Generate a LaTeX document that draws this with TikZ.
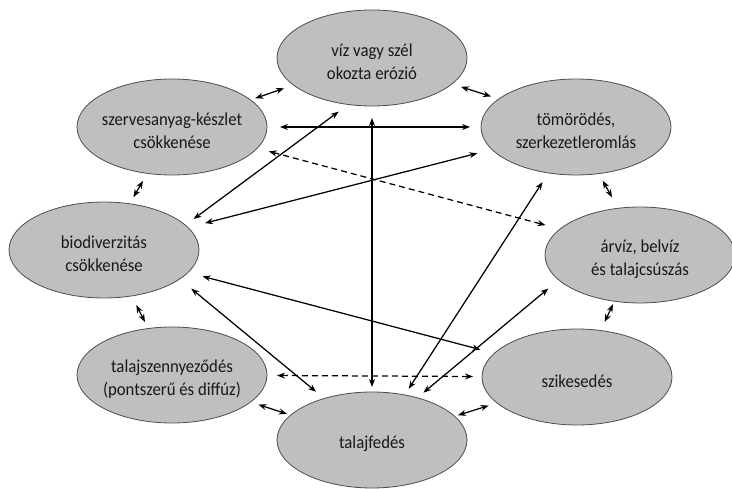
\documentclass[tikz,border=0pt]{standalone}
\usepackage{fontspec}
\setmainfont{Carlito}[FakeStretch=0.92]
\usetikzlibrary{arrows.meta,shapes.geometric}
\begin{document}
\begin{tikzpicture}[x=1pt,y=-1pt,
  blob/.style={ellipse, draw=black!70, line width=0.8pt, fill=black!25,
    minimum width=190pt, minimum height=96pt, inner sep=0pt, outer sep=0pt},
  txt/.style={align=center, font=\fontsize{18.2}{23}\selectfont, text=black!90, inner sep=0pt, yshift=-4pt},
  link/.style={{Stealth[length=8pt,width=6pt]}-{Stealth[length=8pt,width=6pt]}, line width=1.25pt},
  dlink/.style={link, dash pattern=on 6pt off 4pt}]
\useasboundingbox (0,0) rectangle (732,489);
\clip (0,0) rectangle (732,489);

\node[blob, label={[txt]center:{víz vagy szél\\okozta erózió}}] (E) at (372,58) {};
\node[blob, label={[txt]center:{szervesanyag-készlet\\csökkenése}}] (SZ) at (172,127) {};
\node[blob, label={[txt]center:{tömörödés,\\szerkezetleromlás}}] (T) at (576,127) {};
\node[blob, label={[txt]center:{biodiverzitás\\csökkenése}}] (B) at (104,250) {};
\node[blob, label={[txt]center:{árvíz, belvíz\\és talajcsúszás}}] (A) at (640,255) {};
\node[blob, label={[txt]center:{talajszennyeződés\\(pontszerű és diffúz)}}] (TSZ) at (172,375) {};
\node[blob, label={[txt]center:{szikesedés}}] (SZI) at (577,377) {};
\node[blob, label={[txt]center:{talajfedés}}] (TF) at (372,440) {};

% short neighbour links
\draw[link, shorten <=5pt, shorten >=10pt] (SZ.19.3) -- (E.199.6);
\draw[link, shorten <=9.6pt, shorten >=8.2pt] (E.-18.8) -- (T.160.8);
\draw[link, shorten <=8.7pt, shorten >=7.6pt] (SZ.-118.2) -- (B.61.3);
\draw[link, shorten <=8.1pt, shorten >=12.6pt] (T.-64.3) -- (A.115.8);
\draw[link, shorten <=10.3pt, shorten >=7.3pt] (B.-59.8) -- (TSZ.117);
\draw[link, shorten <=3.3pt, shorten >=9.4pt] (A.-119.7) -- (SZI.63.9);
\draw[link, shorten <=8.3pt, shorten >=4pt] (TSZ.-19.2) -- (TF.163.4);
\draw[link, shorten <=3.5pt, shorten >=8.8pt] (TF.16.4) -- (SZI.-162.5);

% long links
\draw[link, shorten <=13pt, shorten >=11pt] (SZ) -- (T);
\draw[link, shorten <=12pt, shorten >=5pt] (E) -- (TF);
\draw[link, shorten <=10.3pt, shorten >=12pt] (B.17.1) -- (E.-117.8);
\draw[link, shorten <=17.6pt, shorten >=15.2pt] (B.15) -- (T.-165.3);
\draw[dlink, shorten <=12pt, shorten >=15.1pt] (SZ.-14.6) -- (A.162.5);
\draw[link, shorten <=15.2pt, shorten >=14.4pt] (B.-15.4) -- (SZI.164.4);
\draw[link, shorten <=15.1pt, shorten >=10.6pt] (B.-21.5) -- (TF.139.9);
\draw[dlink, shorten <=10pt, shorten >=9pt] (TSZ) -- (SZI);
\draw[link, shorten <=7.3pt, shorten >=10.9pt] (TF.54) -- (T.-121.7);
\draw[link, shorten <=8pt, shorten >=13.4pt] (TF.43.8) -- (A.-163.6);
\end{tikzpicture}
\end{document}
